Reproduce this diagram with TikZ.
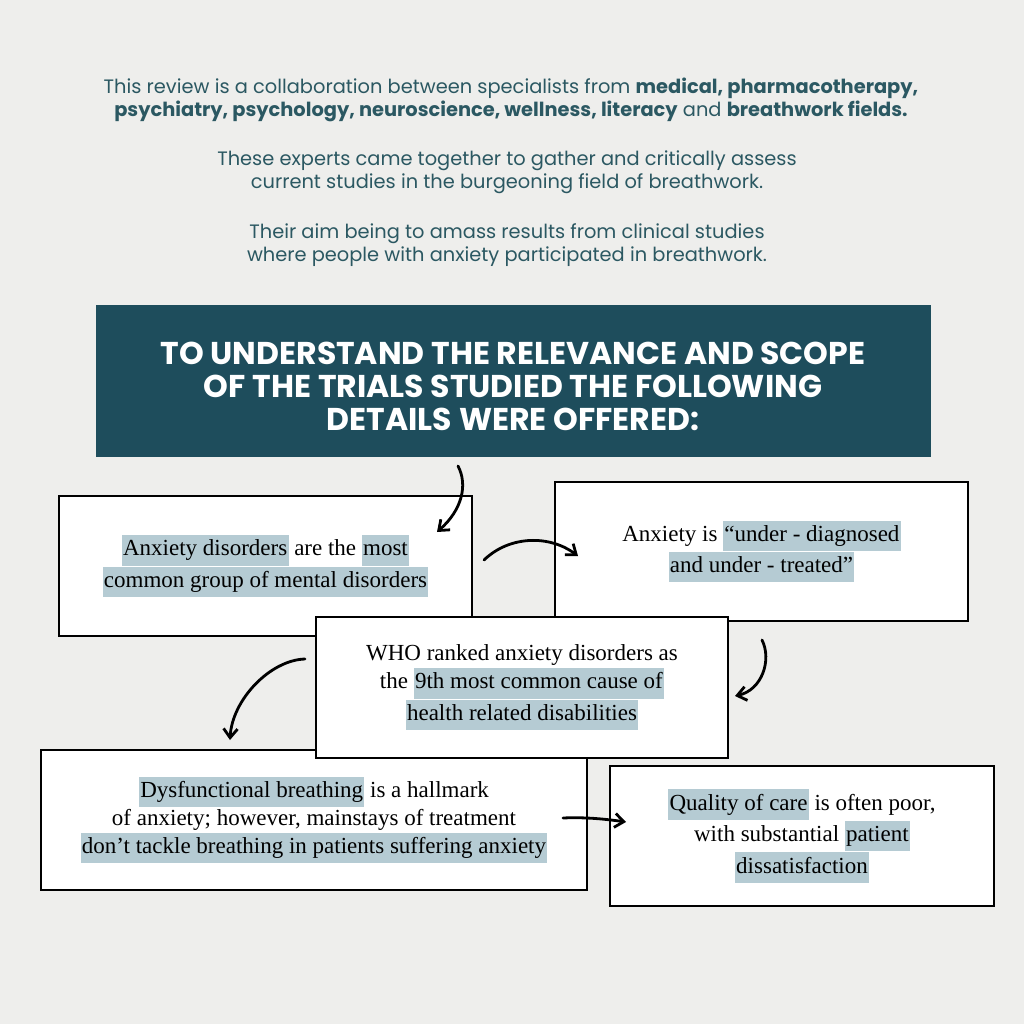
\documentclass[tikz,border=0pt]{standalone}
\usepackage{fontspec}
\setmainfont{Liberation Serif}
\newfontfamily\pop{Poppins}
\usetikzlibrary{arrows.meta}
\definecolor{bg}{HTML}{EEEEEC}
\definecolor{teal}{HTML}{2B5862}
\definecolor{banner}{HTML}{1E4D5C}
\definecolor{hl}{HTML}{B5CBD3}
\newcommand\hlt[1]{{\setlength\fboxsep{1.2pt}\colorbox{hl}{\strut #1}}}
\begin{document}
\begin{tikzpicture}[x=1pt,y=-1pt,
 top/.style={font=\pop\fontsize{19.4}{23}\selectfont,text=teal,align=center},
 box/.style={draw=black,line width=1.3pt,fill=white},
 bt/.style={font=\fontsize{23}{28}\selectfont,align=center,inner sep=0pt},
 arr/.style={line width=2.8pt,-{Straight Barb[length=9pt,width=14pt]},line cap=round}]
\fill[bg] (0,0) rectangle (1024,1024);
\useasboundingbox (0,0) rectangle (1024,1024);
\node[top] (t1) at (511,100) {This review is a collaboration between specialists from \textbf{medical, pharmacotherapy,}\\\textbf{psychiatry, psychology, neuroscience, wellness, literacy} and \textbf{breathwork fields.}};
\node[top] (t2) at (507,172) {These experts came together to gather and critically assess\\current studies in the burgeoning field of breathwork.};
\node[top] (t3) at (507,245) {Their aim being to amass results from clinical studies\\where people with anxiety participated in breathwork.};
\node[fill=banner,minimum width=835,minimum height=152,inner sep=0pt] (ban) at (513.5,381) {};
\node[font=\pop\bfseries\fontsize{31.5}{33}\selectfont,text=white,align=center] (bt) at (513,386) {TO UNDERSTAND THE RELEVANCE AND SCOPE\\OF THE TRIALS STUDIED THE FOLLOWING\\DETAILS WERE OFFERED:};
\node[box,minimum width=413,minimum height=140] (A) at (265.5,566) {};
\node[bt] at (A) {\hlt{Anxiety disorders} are the \hlt{most}\\\hlt{common group of mental disorders}};
\node[box,minimum width=413,minimum height=139] (B) at (761.5,551.5) {};
\node[bt] at (B) {Anxiety is \hlt{“under - diagnosed}\\\hlt{and under - treated”}};
\node[box,minimum width=546,minimum height=140] (D) at (314,820) {};
\node[bt] at (D) {\hlt{Dysfunctional breathing} is a hallmark\\of anxiety; however, mainstays of treatment\\\hlt{don’t tackle breathing in patients suffering anxiety}};
\node[box,minimum width=384,minimum height=140] (E) at (802,836) {};
\node[bt] at (E) {\hlt{Quality of care} is often poor,\\with substantial \hlt{patient}\\\hlt{dissatisfaction}};
\node[box,minimum width=412,minimum height=141] (C) at (522,687.5) {};
\node[bt] at (C) {WHO ranked anxiety disorders as\\the \hlt{9th most common cause of}\\\hlt{health related disabilities}};
\coordinate (a1s) at (458,466); \coordinate (a1e) at (437,532);
\coordinate (a2s) at (484,560); \coordinate (a2e) at (578,556);
\coordinate (a3s) at (762,640); \coordinate (a3e) at (735,696);
\coordinate (a4s) at (305,659); \coordinate (a4e) at (230,740);
\coordinate (a5s) at (563,818); \coordinate (a5e) at (626,822);
\draw[arr] (a1s) .. controls (468,485) and (462,510) .. (a1e);
\draw[arr] (a2s) .. controls (510,535) and (550,535) .. (a2e);
\draw[arr] (a3s) .. controls (772,660) and (762,690) .. (a3e);
\draw[arr] (a4s) .. controls (270,660) and (232,700) .. (a4e);
\draw[arr] (a5s) .. controls (585,817) and (605,819) .. (a5e);
\end{tikzpicture}
\end{document}
